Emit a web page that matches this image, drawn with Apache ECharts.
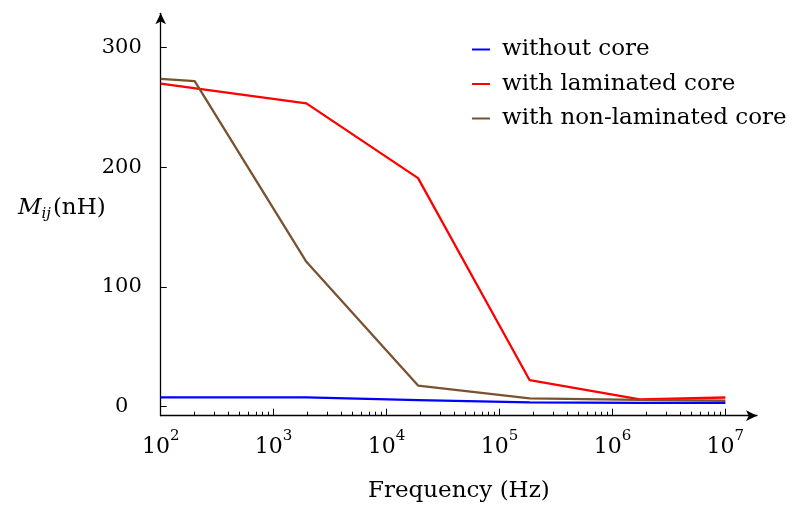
<!DOCTYPE html>
<html>
<head>
<meta charset="utf-8">
<script src="https://cdn.jsdelivr.net/npm/echarts@6/dist/echarts.min.js"></script>
<style>
  html, body { margin: 0; padding: 0; background: #fff; }
  #chart { width: 793px; height: 509px; }
</style>
</head>
<body>
<div id="chart"></div>
<script>
// frequencies (Hz)
var freqPlain = [100, 1950, 19000, 185000, 1750000, 10000000]
var freqLaminated = [100, 1950, 19000, 185000, 1750000, 10000000]
var freqSolid = [100, 200, 1950, 19000, 185000, 1750000, 10000000]

// mutual inductance M_ij (nH)
var withoutCore = [7.7, 7.7, 5.4, 3.4, 3.0, 3.0]
var laminatedCore = [270, 253.5, 191, 22, 6, 7.5]
var nonLaminatedCore = [274, 272, 121, 17.5, 6.8, 5.6, 4.8]

var seriesNames = ['without core', 'with laminated core', 'with non-laminated core']
var seriesColors = ['#0000ff', '#ff0000', '#7b5230']

var xMajorTicks = [1e2, 1e3, 1e4, 1e5, 1e6, 1e7]
var yTicks = [0, 100, 200, 300]

// minor ticks 2..9 in each decade
var xMinorTicks = []
xMajorTicks.slice(0, -1).forEach(function (d) {
  for (var k = 2; k <= 9; k++) xMinorTicks.push(d * k)
})

function pairs (xs, ys) {
  return xs.map(function (x, i) { return [x, ys[i]] })
}

var font = 'DejaVu Serif'
var chart = echarts.init(document.getElementById('chart'))

var option = {
  animation: false,
  backgroundColor: '#ffffff',
  grid: { left: 160.7, top: 13.3, width: 596.3, height: 402.4, containLabel: false },
  legend: {
    orient: 'vertical',
    left: 467,
    top: 32,
    itemWidth: 18,
    itemHeight: 2,
    itemGap: 9.5,
    icon: 'rect',
    data: seriesNames,
    textStyle: { fontFamily: font, fontSize: 23, color: '#000', lineHeight: 25, padding: [0, 0, 0, 7] }
  },
  xAxis: [
    {
      type: 'log',
      logBase: 10,
      position: 'bottom',
      min: 100,
      max: 1.905e7,
      name: 'Frequency (Hz)',
      nameLocation: 'middle',
      nameGap: 64,
      nameMoveOverlap: false,
      nameTextStyle: { fontFamily: font, fontSize: 23, color: '#000' },
      axisLine: {
        onZero: false,
        symbol: ['none', 'arrow'],
        symbolSize: [8, 11],
        lineStyle: { color: '#000', width: 1.3 }
      },
      axisTick: { inside: true, length: 7, customValues: xMajorTicks, lineStyle: { color: '#000', width: 1 } },
      axisLabel: {
        customValues: xMajorTicks,
        margin: 13,
        formatter: function (v) {
          return '{b|10}{s|' + Math.round(Math.log10(v)) + '}'
        },
        rich: {
          b: { fontFamily: font, fontSize: 22, color: '#000', lineHeight: 30, verticalAlign: 'bottom' },
          s: { fontFamily: font, fontSize: 15, color: '#000', lineHeight: 15, verticalAlign: 'top' }
        }
      },
      splitLine: { show: false }
    },
    {
      type: 'log',
      logBase: 10,
      position: 'bottom',
      min: 100,
      max: 1.905e7,
      axisLine: { show: false, onZero: false },
      axisTick: { inside: true, length: 4, customValues: xMinorTicks, lineStyle: { color: '#000', width: 1 } },
      axisLabel: { show: false },
      splitLine: { show: false }
    }
  ],
  yAxis: {
    type: 'value',
    min: -7.7,
    max: 328.8,
    name: '{m|M}{i|ij}{n|(nH)}',
    nameLocation: 'middle',
    nameRotate: 0,
    nameGap: 55,
    nameMoveOverlap: false,
    nameTextStyle: {
      padding: [0, 0, 12, 0],
      rich: {
        m: { fontFamily: font, fontStyle: 'italic', fontSize: 23, color: '#000' },
        i: { fontFamily: font, fontStyle: 'italic', fontSize: 15, color: '#000', padding: [11, 2, 0, 0] },
        n: { fontFamily: font, fontSize: 23, color: '#000' }
      }
    },
    axisLine: {
      onZero: false,
      symbol: ['none', 'arrow'],
      symbolSize: [8, 11],
      lineStyle: { color: '#000', width: 1.3 }
    },
    axisTick: { inside: true, length: 6, customValues: yTicks, lineStyle: { color: '#000', width: 1 } },
    axisLabel: {
      customValues: yTicks,
      align: 'center',
      margin: 39,
      fontFamily: font,
      fontSize: 21,
      color: '#000'
    },
    splitLine: { show: false }
  },
  series: [
    { name: seriesNames[0], type: 'line', data: pairs(freqPlain, withoutCore) },
    { name: seriesNames[1], type: 'line', data: pairs(freqLaminated, laminatedCore) },
    { name: seriesNames[2], type: 'line', data: pairs(freqSolid, nonLaminatedCore) }
  ].map(function (s, i) {
    s.showSymbol = false
    s.symbol = 'none'
    s.color = seriesColors[i]
    s.lineStyle = { width: 2.3, color: seriesColors[i] }
    return s
  })
}

chart.setOption(option)
</script>
</body>
</html>
